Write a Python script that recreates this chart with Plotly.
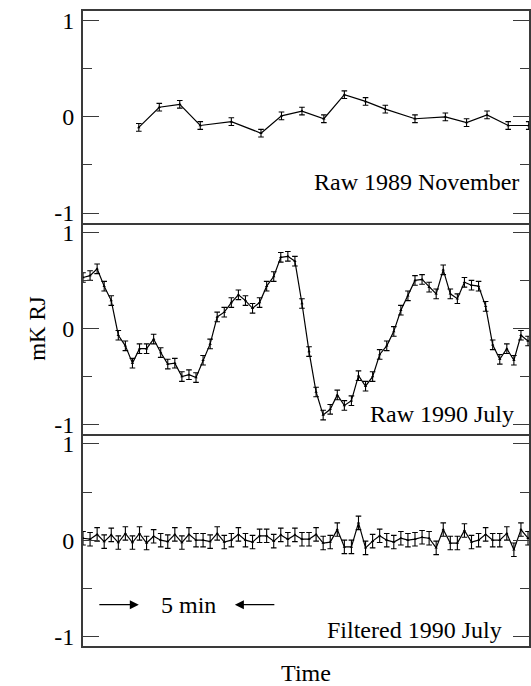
import plotly.graph_objects as go
from plotly.subplots import make_subplots

# ---------------- data (sample index units along time axis) ----------------
nov_time = [7.9, 10.8, 13.7, 16.6, 21.0, 25.2, 28.1, 31.0, 34.1, 37.0, 40.0,
            42.8, 47.0, 51.3, 54.3, 57.2, 60.2, 63.1]
raw_nov = [-0.11, 0.10, 0.13, -0.09, -0.05, -0.17, 0.01, 0.06, -0.02, 0.23,
           0.16, 0.08, -0.02, 0.00, -0.06, 0.02, -0.09, -0.09]

raw_jul = [0.53, 0.55, 0.62, 0.44, 0.29, -0.07, -0.18, -0.36, -0.21, -0.21,
           -0.11, -0.25, -0.37, -0.36, -0.50, -0.48, -0.51, -0.33, -0.16, 0.12,
           0.17, 0.27, 0.35, 0.29, 0.21, 0.27, 0.44, 0.54, 0.74, 0.75,
           0.70, 0.26, -0.24, -0.66, -0.90, -0.84, -0.69, -0.80, -0.75, -0.49,
           -0.60, -0.50, -0.27, -0.18, -0.03, 0.19, 0.34, 0.50, 0.51, 0.43,
           0.36, 0.61, 0.36, 0.31, 0.48, 0.45, 0.44, 0.23, -0.17, -0.32,
           -0.21, -0.33, -0.07, -0.13]

filt_jul = [0.02, 0.01, 0.06, -0.015, 0.055, -0.025, 0.07, -0.025, 0.07, -0.03,
            0.04, 0.00, -0.015, 0.06, -0.025, 0.06, 0.00, 0.00, -0.015, 0.07,
            -0.02, 0.00, 0.06, 0.00, -0.02, 0.045, 0.045, -0.01, 0.055, 0.01,
            0.055, 0.01, 0.01, 0.06, -0.03, -0.02, 0.11, -0.07, -0.07, 0.18,
            -0.08, -0.01, 0.045, 0.00, -0.02, 0.02, 0.00, 0.01, 0.03, 0.02,
            -0.08, 0.11, -0.03, -0.03, 0.10, -0.02, 0.00, 0.06, 0.00, 0.00,
            0.07, -0.10, 0.11, 0.02]

err_nov, err_raw, err_filt = 0.04, 0.05, 0.07

y_tickvals = [-1, 0, 1]
y_ticktext = ["-1", "0", "1"]
panel_labels = ["Raw 1989 November", "Raw 1990 July", "Filtered 1990 July"]
scale_text = "5 min"
scale_left_tail, scale_left_head = 2.1, 7.9
scale_right_tail, scale_right_head = 27.3, 21.5
scale_center, scale_y = 14.9, -0.67
x_range = [0, 63.14]

FONT = "Liberation Serif"
AX = "#3a3a3a"

fig = make_subplots(rows=3, cols=1, shared_xaxes=True, vertical_spacing=0)

jul_time = list(range(len(raw_jul)))
series = [(nov_time, raw_nov, err_nov), (jul_time, raw_jul, err_raw),
          (jul_time, filt_jul, err_filt)]
for i, (xs, ys, e) in enumerate(series, start=1):
    fig.add_trace(go.Scatter(
        x=xs, y=ys, mode="lines+markers",
        line=dict(color="black", width=1.2),
        marker=dict(symbol="triangle-up", size=3, color="black"),
        error_y=dict(type="constant", value=e, color="black", thickness=1.1, width=2.8),
        showlegend=False), row=i, col=1)

for i in range(1, 4):
    fig.update_yaxes(
        range=[-1.1, 1.1], tickvals=y_tickvals, ticktext=y_ticktext,
        ticks="inside", ticklen=16, tickwidth=1.4, tickcolor=AX,
        showline=True, linecolor=AX, linewidth=2, mirror="ticks",
        showgrid=False, zeroline=False, ticklabelstandoff=2,
        tickfont=dict(family=FONT, size=24, color="black"),
        minor=dict(tickvals=[-0.5, 0.5], ticks="inside", ticklen=9,
                   tickwidth=1.4, tickcolor=AX, showgrid=False),
        row=i, col=1)
    fig.update_xaxes(
        range=x_range, showline=True, linecolor=AX, linewidth=2,
        mirror=(i == 1),
        ticks="", showticklabels=False, showgrid=False, zeroline=False,
        row=i, col=1)

fig.update_yaxes(title=dict(text="mK RJ", font=dict(family=FONT, size=23, color="black"),
                            standoff=2), row=2, col=1)
fig.update_xaxes(title=dict(text="Time", font=dict(family=FONT, size=24, color="black"),
                            standoff=20), row=3, col=1)

label_pos = [(0.982, -0.68, "x", "y"), (0.971, -0.89, "x2", "y2"), (0.944, -0.93, "x3", "y3")]
for (xd, yv, xr, yr), txt in zip(label_pos, panel_labels):
    fig.add_annotation(x=xd, y=yv, xref=f"{xr} domain", yref=yr, text=txt,
                       showarrow=False, xanchor="right", yanchor="middle",
                       font=dict(family=FONT, size=24, color="black"))

fig.add_annotation(x=scale_center, y=scale_y, xref="x3", yref="y3", text=scale_text,
                   showarrow=False, font=dict(family=FONT, size=24, color="black"))
for tail, head in [(scale_left_tail, scale_left_head), (scale_right_tail, scale_right_head)]:
    fig.add_annotation(x=head, y=scale_y, ax=tail, ay=scale_y, xref="x3", yref="y3",
                       axref="x3", ayref="y3", text="", showarrow=True,
                       arrowhead=2, arrowsize=1.5, arrowwidth=1.2, arrowcolor="black")

fig.update_layout(width=531, height=686, margin=dict(l=83, r=0, t=11, b=40),
                  plot_bgcolor="white", paper_bgcolor="white", showlegend=False,
                  font=dict(family=FONT, size=24, color="black"))

fig.write_html("out.html")
